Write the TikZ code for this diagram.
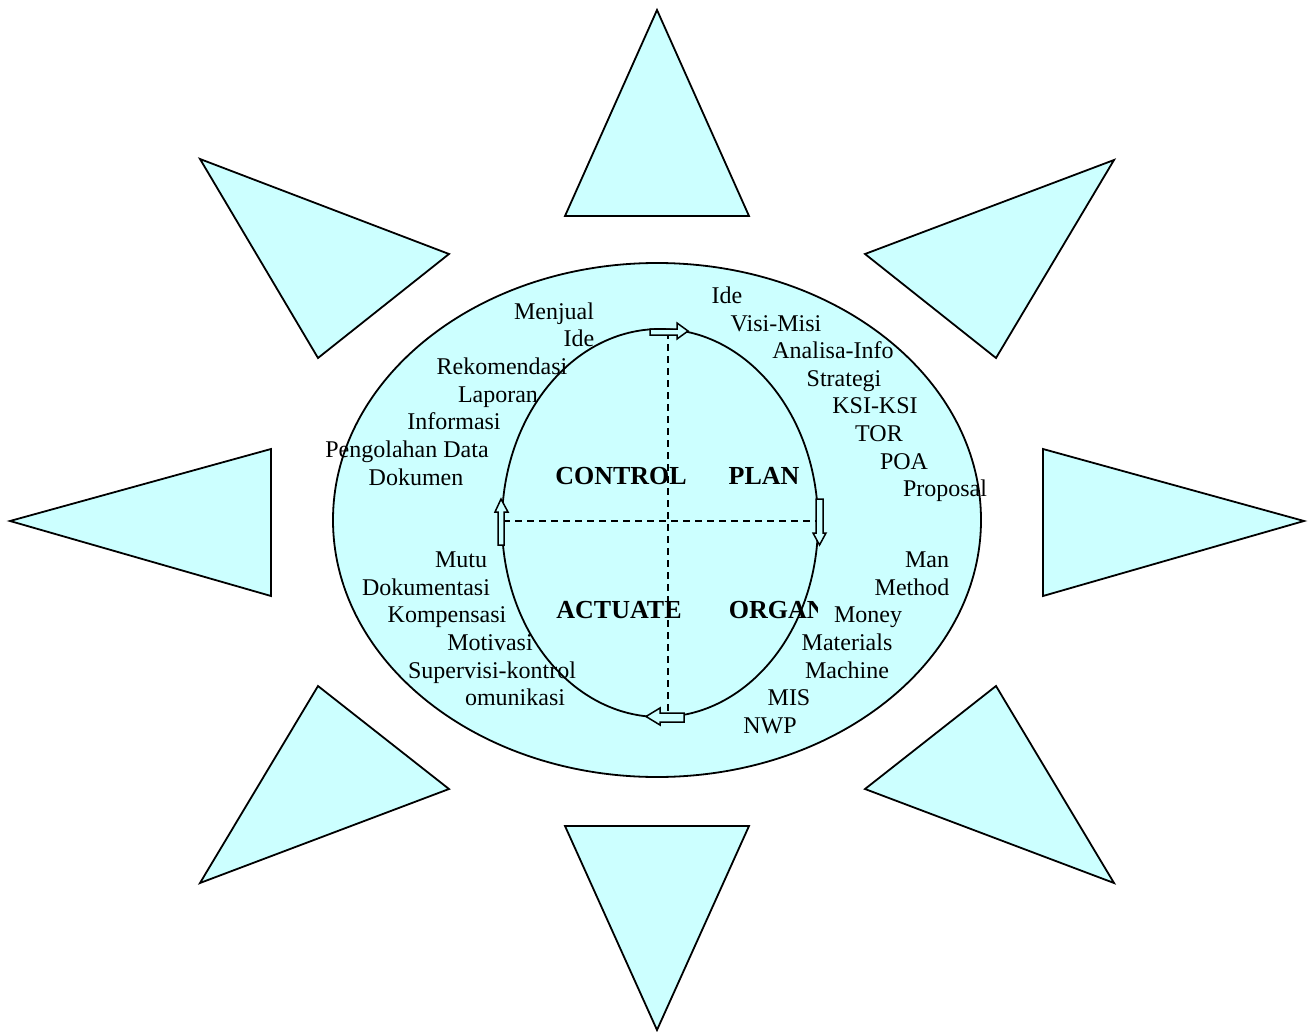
\documentclass[tikz,border=0pt]{standalone}
\usepackage{fontspec}
\setmainfont{Liberation Serif}
\definecolor{sky}{HTML}{CCFFFF}
\begin{document}
\begin{tikzpicture}[x=1pt,y=-1pt,line width=1.8pt,line join=miter,
  ray/.style={draw=black,fill=sky},
  ring/.style={draw=black,fill=sky},
  axis/.style={draw=black,line width=1.6pt,dash pattern=on 7pt off 5pt},
  blockarrow/.style={draw=black,fill=sky,line width=1.5pt},
  lbl/.style={inner sep=0pt,anchor=base,font=\fontsize{24}{27.6}\selectfont},
  head/.style={inner sep=0pt,anchor=base,font=\fontsize{26}{30}\selectfont\bfseries}]
\useasboundingbox (0,0) rectangle (1314,1032);
% rays
\path[ray] (657,10) -- (749,216) -- (565,216) -- cycle;
\path[ray] (657,1030) -- (749,826) -- (565,826) -- cycle;
\path[ray] (10,521) -- (271,449) -- (271,596) -- cycle;
\path[ray] (1304,521) -- (1043,449) -- (1043,596) -- cycle;
\path[ray] (200,159) -- (449,254) -- (318,358) -- cycle;
\path[ray] (1114,160) -- (865,254) -- (996,358) -- cycle;
\path[ray] (200,883) -- (449,789) -- (318,686) -- cycle;
\path[ray] (1114,883) -- (865,789) -- (996,686) -- cycle;
% ellipses
\path[ring] (657,520) ellipse [x radius=324,y radius=257];
\path[ring] (660,523) ellipse [x radius=158,y radius=194];
% axes
\coordinate (vt) at (668,332);
\coordinate (vb) at (668,716);
\coordinate (hl) at (503,521);
\coordinate (hr) at (817,521);
\draw[axis] (vt) -- (vb);
\draw[axis] (hl) -- (hr);
% block arrows
\path[blockarrow] (650,329) -- (677,329) -- (677,323) -- (688,331) -- (677,339) -- (677,335) -- (650,335) -- cycle;
\path[blockarrow] (816,499) -- (823,499) -- (823,533) -- (826,533) -- (819.5,545) -- (813,533) -- (816,533) -- cycle;
\path[blockarrow] (684,713) -- (660,713) -- (660,708) -- (646,716.5) -- (660,725) -- (660,722) -- (684,722) -- cycle;
\path[blockarrow] (498,545) -- (498,512) -- (495,512) -- (501,499) -- (508,512) -- (504,512) -- (504,545) -- cycle;
% quadrant headings
\node[head] (control) at (621,484) {CONTROL};
\node[head] (plan) at (764,484) {PLAN};
\node[head] (actuate) at (619,618) {ACTUATE};
\begin{scope}
\clip (700,580) rectangle (817,640);
\node[head,anchor=base west] (organ) at (728,618) {ORGAN};
\end{scope}
% control list
\node[lbl] (c1) at (554,319) {Menjual};
\node[lbl] (c2) at (579,346) {Ide};
\node[lbl] (c3) at (502,374) {Rekomendasi};
\node[lbl] (c4) at (498,402) {Laporan};
\node[lbl] (c5) at (454,429) {Informasi};
\node[lbl] (c6) at (407,457) {Pengolahan Data};
\node[lbl] (c7) at (416,485) {Dokumen};
% plan list
\node[lbl] (p1) at (727,303) {Ide};
\node[lbl] (p2) at (776,331) {Visi-Misi};
\node[lbl] (p3) at (833,358) {Analisa-Info};
\node[lbl] (p4) at (844,386) {Strategi};
\node[lbl] (p5) at (875,413) {KSI-KSI};
\node[lbl] (p6) at (879,441) {TOR};
\node[lbl] (p7) at (904,469) {POA};
\node[lbl] (p8) at (945,496) {Proposal};
% actuate list
\node[lbl] (a1) at (461,567) {Mutu};
\node[lbl] (a2) at (426,595) {Dokumentasi};
\node[lbl] (a3) at (447,622) {Kompensasi};
\node[lbl] (a4) at (490,650) {Motivasi};
\node[lbl] (a5) at (492,678) {Supervisi-kontrol};
\node[lbl] (a6) at (515,705) {omunikasi};
% organize list
\node[lbl] (o1) at (927,567) {Man};
\node[lbl] (o2) at (912,595) {Method};
\node[lbl] (o3) at (868,622) {Money};
\node[lbl] (o4) at (847,650) {Materials};
\node[lbl] (o5) at (847,678) {Machine};
\node[lbl] (o6) at (789,705) {MIS};
\node[lbl] (o7) at (770,733) {NWP};
\end{tikzpicture}
\end{document}
